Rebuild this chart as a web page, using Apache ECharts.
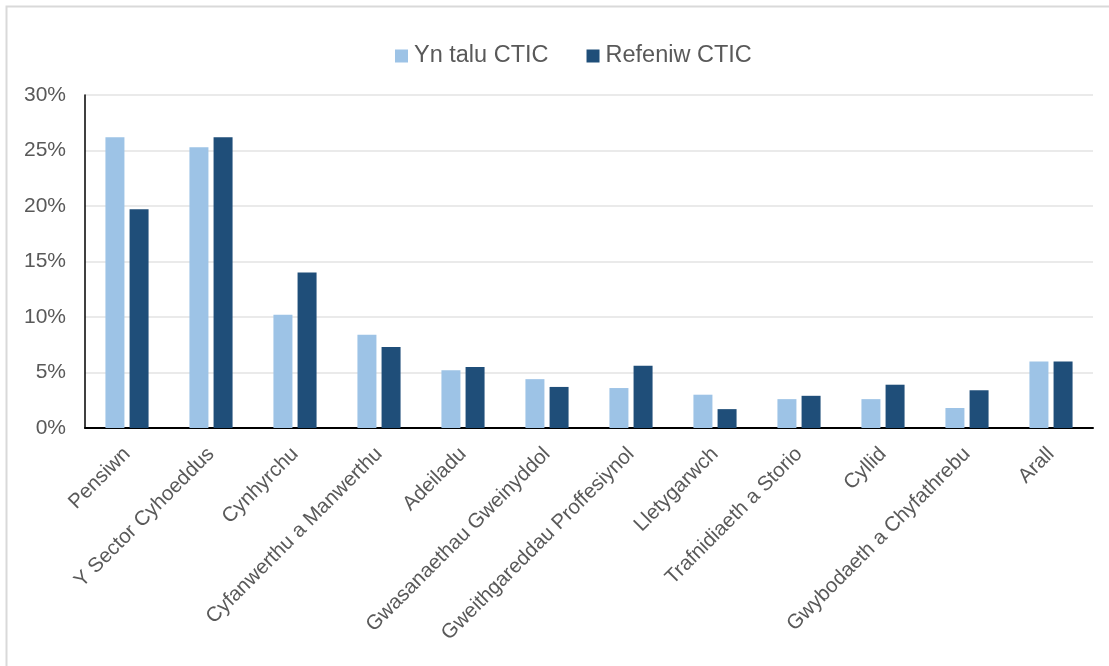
<!DOCTYPE html>
<html>
<head>
<meta charset="utf-8">
<script src="https://cdn.jsdelivr.net/npm/echarts@6/dist/echarts.min.js"></script>
<style>
  html, body { margin: 0; padding: 0; background: #fff; }
  #chart { width: 1109px; height: 666px; }
</style>
</head>
<body>
<div id="chart"></div>
<script>
var categories = ['Pensiwn', 'Y Sector Cyhoeddus', 'Cynhyrchu', 'Cyfanwerthu a Manwerthu', 'Adeiladu',
  'Gwasanaethau Gweinyddol', 'Gweithgareddau Proffesiynol', 'Lletygarwch', 'Trafnidiaeth a Storio',
  'Cyllid', 'Gwybodaeth a Chyfathrebu', 'Arall'];
var payingValues = [26.2, 25.3, 10.2, 8.4, 5.2, 4.4, 3.6, 3.0, 2.6, 2.6, 1.8, 6.0];
var revenueValues = [19.7, 26.2, 14.0, 7.3, 5.5, 3.7, 5.6, 1.7, 2.9, 3.9, 3.4, 6.0];
var yTicks = [0, 5, 10, 15, 20, 25, 30];

var dom = document.getElementById('chart');
var myChart = echarts.init(dom);
var font = 'Liberation Sans, Arial, sans-serif';

var option = {
  animation: false,
  backgroundColor: '#fff',
  // light grey frame, only top and left edges show
  graphic: [{
    type: 'rect',
    shape: { x: 6.5, y: 6.5, width: 1120, height: 680 },
    style: { fill: 'none', stroke: '#d9d9d9', lineWidth: 2 },
    silent: true
  }],
  legend: {
    top: 39,
    left: 390,
    itemWidth: 13,
    itemHeight: 13,
    itemGap: 38,
    icon: 'rect',
    textStyle: { fontFamily: font, fontSize: 23.5, color: '#595959', padding: [0, 0, 0, 1] },
    data: ['Yn talu CTIC', 'Refeniw CTIC']
  },
  grid: { left: 85, right: 16, top: 95, bottom: 238, containLabel: false },
  xAxis: {
    type: 'category',
    data: categories,
    axisLine: { lineStyle: { color: '#000', width: 2 } },
    axisTick: { show: false },
    axisLabel: {
      rotate: 45,
      interval: 0,
      margin: 23,
      fontFamily: font,
      fontSize: 20.5,
      color: '#595959'
    }
  },
  yAxis: {
    type: 'value',
    min: yTicks[0],
    max: yTicks[yTicks.length - 1],
    interval: 5,
    axisLine: { show: true, lineStyle: { color: '#000', width: 1.5 } },
    axisTick: { show: false },
    splitLine: { lineStyle: { color: '#e3e3e3', width: 1.5 } },
    axisLabel: {
      formatter: '{value}%',
      margin: 19,
      fontFamily: font,
      fontSize: 21,
      color: '#595959'
    }
  },
  series: [{
    name: 'Yn talu CTIC',
    type: 'bar',
    data: payingValues,
    barWidth: 19,
    barGap: '27%',
    itemStyle: { color: '#9dc3e6' }
  }, {
    name: 'Refeniw CTIC',
    type: 'bar',
    data: revenueValues,
    barWidth: 19,
    barGap: '27%',
    itemStyle: { color: '#1f4e79' }
  }]
};

if (option && typeof option === 'object') {
  myChart.setOption(option, true);
}
</script>
</body>
</html>
